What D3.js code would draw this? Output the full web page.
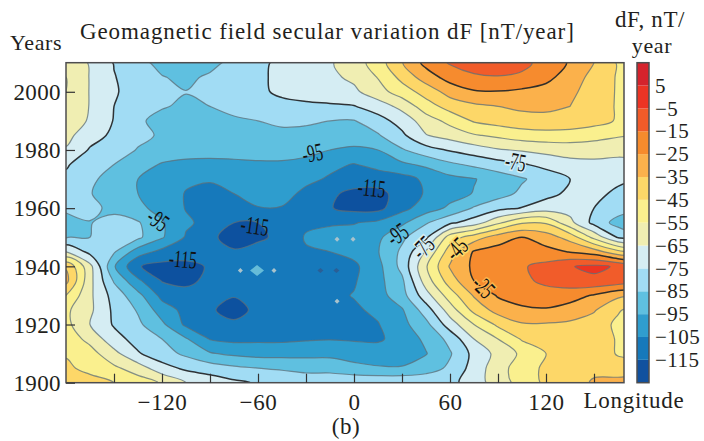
<!DOCTYPE html>
<html>
<head>
<meta charset="utf-8">
<script src="https://cdn.jsdelivr.net/npm/d3@7"></script>
<style>
  html, body { margin: 0; padding: 0; background: #fff; }
  text { font-family: "Liberation Serif", serif; fill: #231f20; }
</style>
</head>
<body>
<div id="chart-area"></div>
<script>
// Data
// ****
const lons = d3.range(-180, 181, 15)
const years = d3.range(2010, 1899, -5)

// dF, rows from 2010 down to 1900, columns from lons
const dfRows = [
  [-57,-66,-75.5,-82,-88,-92,-88,-82,-77,-73,-70,-66,-60,-50,-35.5,-22,-14,-9,-6,-12,-19,-26,-35,-46,-52],
  [-55,-65.5,-74.5,-80,-84.5,-87,-83.5,-80,-76.5,-73,-70,-67,-63,-54.5,-42,-30,-21,-17,-16,-17,-22,-30,-38,-46,-50],
  [-55,-65.5,-74,-79,-83,-84.8,-82,-79,-77,-73,-71,-69,-67,-59,-50,-41,-31,-26,-25.5,-27,-29,-33,-39,-46,-49],
  [-56,-65.5,-75,-81,-84.5,-86,-85,-83,-80,-78,-77,-76.5,-75.5,-70,-62,-49.5,-41,-37,-35,-33,-33,-35,-40,-46,-49],
  [-57,-66.5,-75.5,-84,-87,-88,-87,-86,-85,-83.5,-83.5,-85,-85.5,-79,-71,-60,-52,-44,-41,-39,-38,-38,-41,-46,-48],
  [-62,-71,-77,-83,-86,-88,-88.5,-88.5,-88,-87,-88,-89,-89,-86,-77,-65.5,-61,-56,-53,-50,-49,-50,-52,-54,-56],
  [-66,-76,-81,-85.5,-88,-90,-91,-91.5,-91,-91,-93,-95,-97,-95,-86,-79,-74,-70,-66,-64,-62,-60,-60,-62,-63],
  [-74,-80,-85,-90,-96,-98,-98,-97,-96.5,-96.5,-97,-103,-105.5,-102,-97,-93,-87,-83,-79,-76,-72,-69,-68,-68,-67],
  [-77,-83,-89,-95,-100,-103.5,-104,-102,-100,-99,-103,-106,-109,-110,-109,-103,-98,-95.5,-91,-86,-81,-75,-70,-72,-75],
  [-78,-84.5,-90,-95,-100,-105.5,-108,-105,-101,-102,-107,-113,-118,-118,-111,-104,-99,-94.5,-89,-83,-78,-73,-71,-78,-81],
  [-84,-82,-88,-93,-98,-105.5,-107,-107,-105.5,-105.5,-110,-114.5,-118,-118,-108,-100,-93,-84,-78,-74.5,-70,-69,-75,-80,-84],
  [-87,-85.5,-81,-84,-94,-103.5,-108,-115,-115,-111,-107,-106,-105.5,-103,-97,-86,-77,-70,-57,-46,-46,-62,-78,-89,-92],
  [-86,-85,-81,-83,-94,-106,-114,-117,-116.5,-113,-104,-102,-101,-97,-87,-77,-50,-40,-30,-25,-30,-39,-58,-76,-84],
  [-65,-78,-84,-100,-108,-110,-113,-114.5,-112,-110,-106,-105,-102,-95.5,-83,-64,-40,-24,-21,-20,-22,-25.5,-30,-42,-50],
  [-36,-62,-94,-114.5,-118,-118,-114,-110,-108,-109,-109,-109,-107,-98,-82,-56,-34,-23,-19,-16,-12,-5.5,-3,-6,-14],
  [-32,-62,-86,-103,-115.5,-117,-113,-110,-109,-109,-109,-109,-106,-98,-87,-60,-40,-25,-20,-17,-13,-9,-7,-9,-13],
  [-45,-63,-79,-92,-108,-112,-114,-114.5,-113,-111,-110,-107.5,-104.5,-99,-89,-69,-50,-34,-24,-20,-19,-21,-26,-33,-36],
  [-53,-63,-77,-86,-100,-108,-114,-118,-113,-111,-110,-109,-106.5,-103,-96,-80,-60,-42,-31,-27,-26,-29,-34,-44,-50],
  [-52,-65,-76,-83,-93,-107,-111,-113.5,-111,-110,-109,-108,-107,-105.5,-98,-88,-70,-55,-43,-36,-36,-37,-40,-47,-52],
  [-49,-58,-71,-79,-85,-94,-105.5,-107.5,-107,-107,-106,-105.5,-106,-106.5,-101,-93,-82,-65,-55,-44,-39,-37,-39,-46,-52],
  [-46,-51,-62,-74,-81,-87,-94,-97,-98.5,-98.5,-98,-97.5,-99.5,-100,-101,-95.5,-86,-72,-62,-53,-45,-40,-38,-46,-50],
  [-43,-48,-53,-60,-71,-77,-80,-83,-85,-86,-88,-89,-92,-94,-94,-90,-83,-71,-59,-50,-43,-39,-37,-40,-40],
  [-38,-41,-45,-50,-56,-65,-69,-73,-76,-79,-79,-77,-77,-76.5,-76.5,-77,-78,-70,-60,-51,-43,-39,-34,-32,-31]
]

// Contour levels and the colour of the band just above each one
const levels = [-115, -105, -95, -85, -75, -65, -55, -45, -35, -25, -15, -5, 5]
const boldLevels = [-75, -25]
const bandColors = ["#11519f", "#1679bb", "#2f9dce", "#5fc0e0", "#a1dcf4", "#d5edf3", "#f0eeb2",
                    "#faf08e", "#fdd768", "#fbb14c", "#f68b2d", "#f15b29", "#ec3424", "#d5232c"]
const barTop = 15, barBottom = -125

// Inline contour labels
const labelText = ["-95", "-75", "-115", "-115", "-115", "-95", "-95", "-75", "-45", "-25"]
const labelLon = [-26, 101, 11, -62, -107, -122.5, 27, 43, 64, 81]
const labelYear = [1979, 1976, 1967, 1954, 1942.5, 1956, 1951, 1946.5, 1946, 1933]
const labelAngle = [-10, 10, 6, 8, 5, 35, -35, -45, -45, 45]
const labelHalo = [null, "#d5edf3", null, null, null, null, null, "#d5edf3", "#fdd768", "#fbb14c"]

// Small artefacts of the original contouring
const paleMarks = [[-71, 1938.6], [-50, 1938.6], [-10.6, 1949.3], [-0.6, 1949.3], [-10.6, 1928]]
const darkMarks = [[-21, 1938.6], [-11, 1938.6]]
const bigMark = [-60.6, 1938.6]

const lonTicks = d3.range(-150, 151, 30)
const lonLabels = [-120, -60, 0, 60, 120]
const yearTicks = [1900, 1920, 1940, 1960, 1980, 2000]

// Config
// ******
const width = 704, height = 441
const plot = {left: 66, right: 624, top: 62.7, bottom: 382.7}
const bar = {left: 637, right: 649}
const minus = v => String(v).replace("-", "\u2212")

const svg = d3.select("#chart-area")
  .append("svg")
    .attr("width", width)
    .attr("height", height)
    .style("display", "block")

const x = d3.scaleLinear().domain([-180, 168.75]).range([plot.left, plot.right])
const y = d3.scaleLinear().domain([1900, 2010]).range([plot.bottom, plot.top])
const barY = d3.scaleLinear().domain([barBottom, barTop]).range([plot.bottom, plot.top])

const defs = svg.append("defs")
defs.append("clipPath").attr("id", "plot-clip")
  .append("rect")
    .attr("x", plot.left).attr("y", plot.top)
    .attr("width", plot.right - plot.left).attr("height", plot.bottom - plot.top)
defs.append("filter").attr("id", "soft")
  .append("feGaussianBlur").attr("stdDeviation", 0.45)

// Contours
// ********
const nx = lons.length, ny = years.length
const contours = d3.contours().size([nx, ny]).thresholds(levels)(dfRows.flat())

// d3.contours puts grid node i at i + 0.5
const nodeX = gx => x(lons[0] + (gx - 0.5) * 15)
const nodeY = gy => y(years[0] - (gy - 0.5) * 5)

// The grid is coarse, so round the rings instead of drawing them as polygons
const ringLine = d3.line().curve(d3.curveCatmullRomClosed.alpha(0.5))
function smoothPath(contour) {
  return contour.coordinates.flat().map(ring => {
    const pts = ring.slice(0, -1).map(p => [nodeX(p[0]), nodeY(p[1])])
      .filter((p, i, a) => i === 0 || Math.hypot(p[0] - a[i - 1][0], p[1] - a[i - 1][1]) > 1)
    return ringLine(pts)
  }).join("")
}

const field = svg.append("g").attr("clip-path", "url(#plot-clip)")
const soft = field.append("g").attr("filter", "url(#soft)")

soft.append("rect")
  .attr("x", plot.left).attr("y", plot.top)
  .attr("width", plot.right - plot.left).attr("height", plot.bottom - plot.top)
  .attr("fill", bandColors[0])

soft.selectAll("path.band").data(contours).enter()
  .append("path")
    .attr("class", "band")
    .attr("d", smoothPath)
    .attr("fill-rule", "evenodd")
    .attr("fill", (d, i) => bandColors[i + 1])

soft.selectAll("path.line").data(contours).enter()
  .append("path")
    .attr("class", "line")
    .attr("d", smoothPath)
    .attr("fill", "none")
    .attr("stroke", d => boldLevels.includes(d.value) ? "#26292b" : "#5d6f78")
    .attr("stroke-opacity", d => boldLevels.includes(d.value) ? 0.95 : 0.75)
    .attr("stroke-width", d => boldLevels.includes(d.value) ? 1.5 : 1.2)

// Artefact marks
const diamond = (cx, cy, rx, ry) => `M${cx - rx},${cy}L${cx},${cy - ry}L${cx + rx},${cy}L${cx},${cy + ry}Z`
soft.selectAll("path.pale").data(paleMarks).enter()
  .append("path")
    .attr("class", "pale")
    .attr("d", d => diamond(x(d[0]), y(d[1]), 2.5, 2.5))
    .attr("fill", "#a9c3cc")
soft.selectAll("path.dark").data(darkMarks).enter()
  .append("path")
    .attr("class", "dark")
    .attr("d", d => diamond(x(d[0]), y(d[1]), 3, 2.5))
    .attr("fill", "#2b5f96")
soft.append("path")
  .attr("d", diamond(x(bigMark[0]), y(bigMark[1]), 7, 5.5))
  .attr("fill", "#66bcd8")

// Inline labels
field.selectAll("g.clabel").data(labelText).enter()
  .append("g")
    .attr("class", "clabel")
    .attr("transform", (d, i) => `translate(${x(labelLon[i])},${y(labelYear[i])}) rotate(${labelAngle[i]}) scale(0.62,1)`)
  .append("text")
    .attr("text-anchor", "middle")
    .attr("dy", "0.34em")
    .attr("font-size", "25px")
    .style("fill", "#111")
    .style("paint-order", "stroke")
    .attr("stroke", (d, i) => labelHalo[i] || "none")
    .attr("stroke-width", (d, i) => labelHalo[i] ? 3.5 : 0)
    .text(d => d)

// Axes
// ****
svg.append("rect")
  .attr("x", plot.left).attr("y", plot.top)
  .attr("width", plot.right - plot.left).attr("height", plot.bottom - plot.top)
  .attr("fill", "none").attr("stroke", "#4d4d4f").attr("stroke-width", 1.5)

const bottomAxis = d3.axisBottom(x).tickValues(lonTicks).tickSizeInner(-9).tickSizeOuter(0)
  .tickFormat(d => lonLabels.includes(d) ? minus(d) : "")
const gx = svg.append("g")
  .attr("transform", "translate(0," + plot.bottom + ")")
  .call(bottomAxis)
gx.select(".domain").remove()
gx.selectAll("line").attr("stroke", "#333").attr("stroke-width", 1.2)
gx.selectAll("text").attr("y", 11).attr("dy", "0.71em").attr("font-size", "23px").attr("font-family", null).attr("letter-spacing", "0.6px")

const leftAxis = d3.axisLeft(y).tickValues(yearTicks).tickSizeInner(-9).tickSizeOuter(0).tickFormat(d3.format("d"))
const gy = svg.append("g")
  .attr("transform", "translate(" + plot.left + ",0)")
  .call(leftAxis)
gy.select(".domain").remove()
gy.selectAll("line").attr("stroke", "#333").attr("stroke-width", 1.2)
gy.selectAll("text").attr("x", -5).attr("dy", "0.34em").attr("font-size", "23px").attr("letter-spacing", "0.4px")

// Colour bar
// **********
const barEdges = [barBottom, ...levels, barTop]
svg.selectAll("rect.swatch").data(bandColors).enter()
  .append("rect")
    .attr("class", "swatch")
    .attr("x", bar.left)
    .attr("width", bar.right - bar.left)
    .attr("y", (d, i) => barY(barEdges[i + 1]))
    .attr("height", (d, i) => barY(barEdges[i]) - barY(barEdges[i + 1]))
    .attr("fill", d => d)
svg.append("rect")
  .attr("x", bar.left).attr("y", plot.top)
  .attr("width", bar.right - bar.left).attr("height", plot.bottom - plot.top)
  .attr("fill", "none").attr("stroke", "#4d4d4f").attr("stroke-width", 1.5)

svg.selectAll("text.barlabel").data(levels).enter()
  .append("text")
    .attr("class", "barlabel")
    .attr("x", 655)
    .attr("y", d => barY(d))
    .attr("dy", "0.34em")
    .attr("font-size", "21px")
    .attr("letter-spacing", "0.5px")
    .text(d => minus(d))

// Text
// ****
const addText = (str, px, py, size, anchor, spacing) => svg.append("text")
  .attr("x", px).attr("y", py)
  .attr("font-size", size + "px")
  .attr("text-anchor", anchor)
  .attr("letter-spacing", spacing + "px")
  .text(str)

addText("Geomagnetic field secular variation dF [nT/year]", 80, 39, 23, "start", 0.9)
addText("Years", 10, 50, 22, "start", 0.6)
addText("dF, nT/", 650, 27, 23, "middle", 0.6)
addText("year", 652, 53, 22, "middle", 0.6)
addText("Longitude", 634, 408, 23, "middle", 0.7)
addText("(b)", 346, 434, 23, "middle", 0.5)
</script>
</body>
</html>
